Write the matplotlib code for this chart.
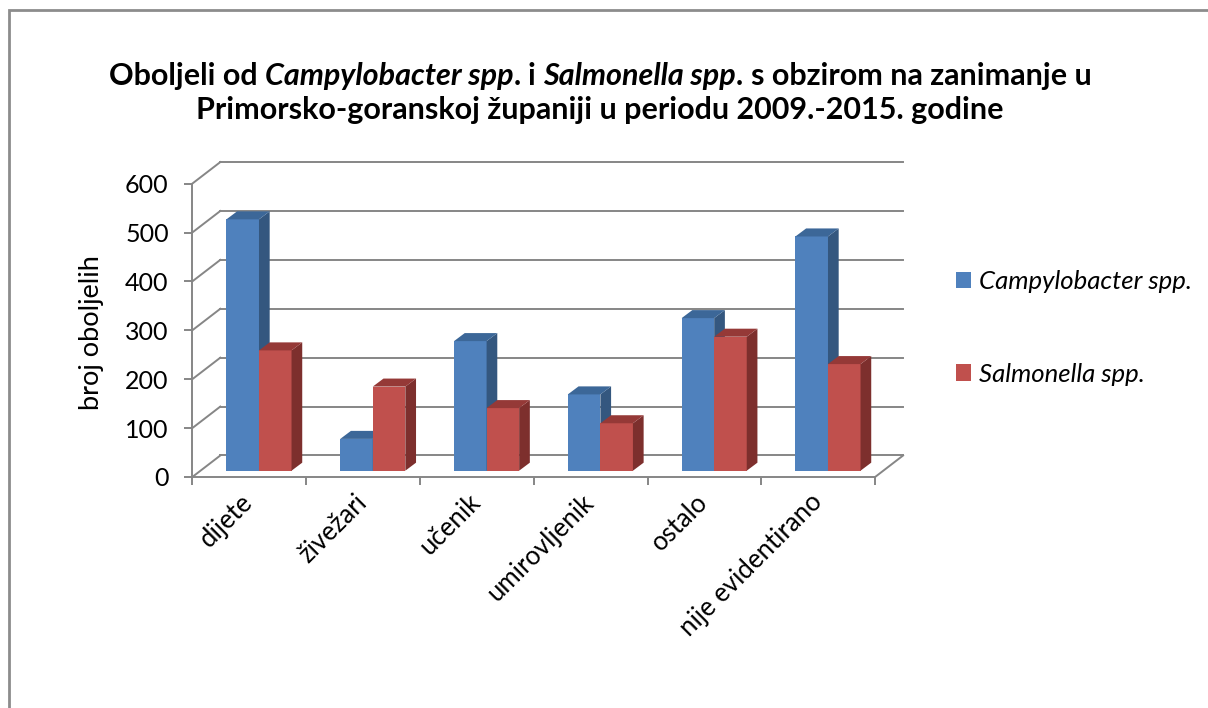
import matplotlib
matplotlib.use("Agg")
import matplotlib.pyplot as plt
from matplotlib.patches import Patch, Rectangle
from matplotlib.transforms import ScaledTranslation

# data
categories = ["dijete", "živežari", "učenik", "umirovljenik", "ostalo", "nije evidentirano"]
campylobacter = [514, 65, 265, 156, 312, 479]
salmonella = [246, 172, 128, 97, 274, 218]
y_ticks = [0, 100, 200, 300, 400, 500, 600]
series_names = ["Campylobacter spp.", "Salmonella spp."]

plt.rcParams["font.family"] = ["Lato", "DejaVu Sans"]

W, H = 1208, 708
GRAY = "#868686"
FRONT = ["#4F81BD", "#C0504D"]
SIDE = ["#34577F", "#7D2F2D"]
TOP = ["#3C6798", "#953937"]

fig = plt.figure(figsize=(W / 100, H / 100), dpi=100)

# place the axes so that one category = 113.8 px and 1 unit = 0.489 px
x0_px, xunit = 192.3, 113.8
y0_px, yunit = 477.0, 0.489
xlim = (-0.15, 6.45)
ylim = (-40, 670)
left_px = x0_px + xlim[0] * xunit
right_px = x0_px + xlim[1] * xunit
top_px = y0_px - ylim[1] * yunit
bot_px = y0_px - ylim[0] * yunit
ax = fig.add_axes([left_px / W, 1 - bot_px / H,
                   (right_px - left_px) / W, (bot_px - top_px) / H])
ax.set_xlim(*xlim)
ax.set_ylim(*ylim)
ax.patch.set_visible(False)

# pseudo 3d geometry (in data units)
wall_dx, wall_dy = 0.246, 44      # depth of the whole box
bar_dx, bar_dy = 0.094, 16.4      # depth of a bar
base = 12.9                       # bars stand a bit behind the front edge
n = len(categories)
top_val = y_ticks[-1]

# back wall grid + side wall diagonals
for v in y_ticks:
    ax.plot([wall_dx, n + wall_dx], [v + wall_dy, v + wall_dy], color=GRAY, lw=1.4, zorder=1)
    ax.plot([0, wall_dx], [v, v + wall_dy], color=GRAY, lw=1.4, zorder=1)
ax.plot([n, n + wall_dx], [0, wall_dy], color=GRAY, lw=1.4, zorder=1)

# axes lines and ticks
for side in ["top", "right"]:
    ax.spines[side].set_visible(False)
ax.spines["left"].set_position(("data", 0))
ax.spines["bottom"].set_position(("data", 0))
ax.spines["left"].set_bounds(0, top_val)
ax.spines["bottom"].set_bounds(0, n)
for side in ["left", "bottom"]:
    ax.spines[side].set_color(GRAY)
    ax.spines[side].set_linewidth(1.4)

ax.set_yticks(y_ticks)
ax.set_yticklabels([str(v) for v in y_ticks])
ax.tick_params(axis="y", length=6, width=1.4, color=GRAY, pad=11, labelsize=18)

ax.set_xticks(range(n + 1))
ax.set_xticklabels([""] * (n + 1))
ax.set_xticks([i + 0.5 for i in range(n)], minor=True)
ax.set_xticklabels(categories, minor=True, rotation=45, ha="right",
                   rotation_mode="anchor", fontsize=18.5)
ax.tick_params(axis="x", which="major", length=6, width=1.4, color=GRAY)
ax.tick_params(axis="x", which="minor", length=0, pad=9)
shift = ScaledTranslation(-9 / 100, 0, fig.dpi_scale_trans)
for lbl in ax.get_xticklabels(minor=True):
    lbl.set_transform(lbl.get_transform() + shift)

# bars: front face with ax.bar, side and top faces as polygons
bar_w = 0.286
offset = 0.30
for i in range(n):
    for s, vals in enumerate([campylobacter, salmonella]):
        v = vals[i]
        xl = i + offset + s * bar_w
        xr = xl + bar_w
        z = 3 + 2 * i + s
        ax.bar(xl, v, bar_w, bottom=base, align="edge", color=FRONT[s], zorder=z)
        ax.fill([xr, xr + bar_dx, xr + bar_dx, xr],
                [base, base + bar_dy, base + v + bar_dy, base + v],
                color=SIDE[s], lw=0, zorder=z)
        ax.fill([xl, xl + bar_dx, xr + bar_dx, xr],
                [base + v, base + v + bar_dy, base + v + bar_dy, base + v],
                color=TOP[s], lw=0, zorder=z)

fig.text(92 / W, 1 - 333 / H, "broj oboljelih", rotation=90,
         ha="center", va="center", fontsize=19.5)

# legend
handles = [Patch(facecolor=c, edgecolor="none") for c in FRONT]
fig.legend(handles, series_names, loc="center left",
           bbox_to_anchor=(956 / W, 1 - 328 / H), frameon=False,
           prop={"style": "italic", "size": 18.5}, borderpad=0, borderaxespad=0,
           labelspacing=2.7, handlelength=0.6, handleheight=0.6,
           handletextpad=0.3)

# title with mixed upright / italic parts
renderer = fig.canvas.get_renderer()


def text_width(s, italic, size):
    t = fig.text(0, 0, s, fontsize=size, fontweight="bold",
                 fontstyle="italic" if italic else "normal")
    w = t.get_window_extent(renderer).width
    t.remove()
    return w


def rich_line(parts, y_px, size):
    space = text_width("x x", False, size) - text_width("xx", False, size)
    widths = [text_width(s, it, size) for s, it, _ in parts]
    total = sum(widths) + space * sum(1 for p in parts if p[2])
    x = 600 - total / 2
    for (s, it, gap), w in zip(parts, widths):
        if gap:
            x += space
        fig.text(x / W, 1 - y_px / H, s, fontsize=size, fontweight="bold",
                 fontstyle="italic" if it else "normal", va="center", ha="left")
        x += w


title_size = 22
rich_line([("Oboljeli od", False, False), ("Campylobacter spp", True, True),
           (".", False, False), ("i", False, True), ("Salmonella spp", True, True),
           (".", False, False), ("s obzirom na zanimanje u", False, True)],
          76, title_size)
rich_line([("Primorsko-goranskoj županiji u periodu 2009.-2015. godine", False, False)],
          110, title_size)

# outer chart frame (right and bottom edges fall outside the picture)
fig.patches.append(Rectangle((9 / W, -0.05), 1.2, 1 - 10 / H + 0.05,
                             transform=fig.transFigure, fill=False,
                             edgecolor="#8C8C8C", lw=2))

fig.savefig("out.png", dpi=100)
